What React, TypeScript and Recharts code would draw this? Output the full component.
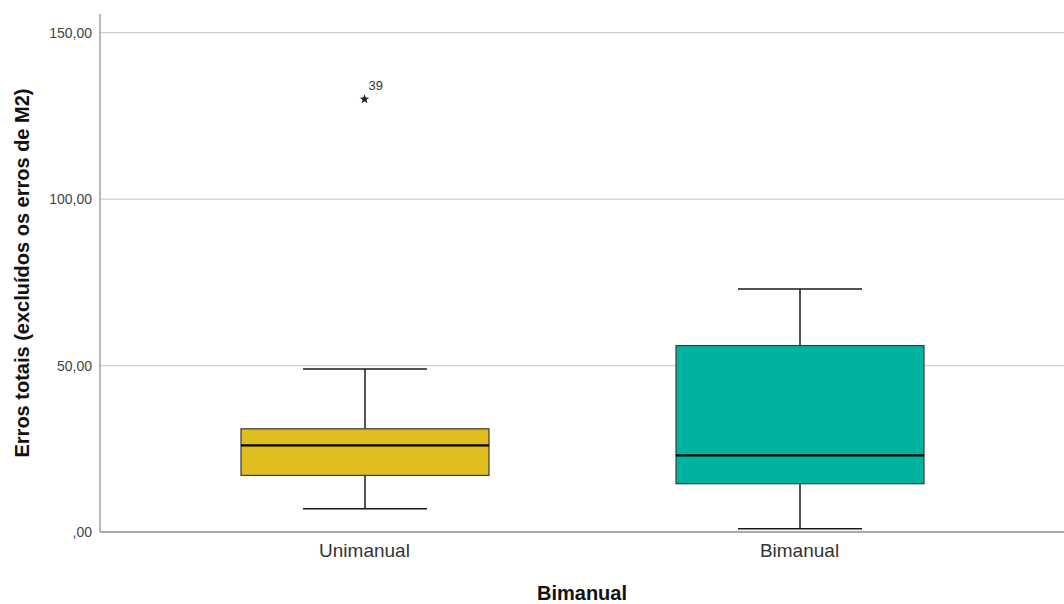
import { ComposedChart, Bar, Scatter, XAxis, YAxis, CartesianGrid } from 'recharts'

// box plot summary per group
const categories = ['Unimanual', 'Bimanual']
const mins = [7, 1]
const q1s = [17, 14.5]
const medians = [26, 23]
const q3s = [31, 56]
const maxs = [49, 73]
const outliers: (number | null)[] = [130, null]
const outlierIds = ['39', '']
const yTicks = [0, 50, 100, 150]
const gridValues = [50, 100, 150]

const BOX_COLORS = ['#e0bd1e', '#00b3a1']
const FONT = '"Liberation Sans", Arial, sans-serif'

const data = categories.map((name, i) => ({
  name,
  range: [mins[i], maxs[i]],
  min: mins[i],
  q1: q1s[i],
  median: medians[i],
  q3: q3s[i],
  max: maxs[i],
  outlier: outliers[i],
  outlierId: outlierIds[i],
  color: BOX_COLORS[i],
}))

// draws whiskers + box + median from the [min, max] bar the library lays out
function BoxShape(props: any) {
  const { x, y, width, height, payload } = props
  if (!payload || !height) return null
  const top = Math.min(y, y + height)
  const k = Math.abs(height) / (payload.max - payload.min)
  const py = (v: number) => top + (payload.max - v) * k
  const cx = x + width / 2
  const cap = width / 4
  return (
    <g>
      <line x1={cx} x2={cx} y1={py(payload.max)} y2={py(payload.q3)} stroke="#1a1a1a" strokeWidth={1.5} />
      <line x1={cx} x2={cx} y1={py(payload.q1)} y2={py(payload.min)} stroke="#1a1a1a" strokeWidth={1.5} />
      <line x1={cx - cap} x2={cx + cap} y1={py(payload.max)} y2={py(payload.max)} stroke="#1a1a1a" strokeWidth={1.5} />
      <line x1={cx - cap} x2={cx + cap} y1={py(payload.min)} y2={py(payload.min)} stroke="#1a1a1a" strokeWidth={1.5} />
      <rect
        x={x}
        y={py(payload.q3)}
        width={width}
        height={py(payload.q1) - py(payload.q3)}
        fill={payload.color}
        stroke="#3a3a3a"
        strokeWidth={1.2}
      />
      <line x1={x} x2={x + width} y1={py(payload.median)} y2={py(payload.median)} stroke="#000" strokeWidth={2.2} />
    </g>
  )
}

function StarShape(props: any) {
  const { cx, cy, payload } = props
  if (payload?.outlier == null || !Number.isFinite(cy)) return null
  const pts: string[] = []
  for (let i = 0; i < 10; i++) {
    const r = i % 2 === 0 ? 5 : 2.1
    const a = -Math.PI / 2 + (i * Math.PI) / 5
    pts.push(`${cx + r * Math.cos(a)},${cy + r * Math.sin(a)}`)
  }
  return (
    <g>
      <polygon points={pts.join(' ')} fill="#222" />
      <text x={cx + 4} y={cy - 9} fontSize={13} fill="#333" fontFamily={FONT}>
        {payload.outlierId}
      </text>
    </g>
  )
}

const fmt = (v: number) => (v === 0 ? ',00' : v.toFixed(2).replace('.', ','))

export default function App() {
  return (
    <div style={{ width: 1064, height: 604, background: '#fff' }}>
      <style>{'body{margin:0}'}</style>
      <ComposedChart
        width={1064}
        height={604}
        data={data}
        margin={{ top: 14, right: 0, bottom: 0, left: 0 }}
        barSize={248}
      >
        <CartesianGrid
          horizontal
          vertical={false}
          horizontalValues={gridValues}
          stroke="#cfcfcf"
          strokeWidth={1.2}
        />
        <XAxis
          dataKey="name"
          height={72}
          padding={{ left: 47, right: 47 }}
          axisLine={{ stroke: '#555', strokeWidth: 1.2 }}
          tickLine={false}
          tickMargin={6}
          tick={{ fontSize: 19, fill: '#333', fontFamily: FONT }}
          label={{
            content: ({ viewBox }: any) => (
              <text
                x={viewBox.x + viewBox.width / 2}
                y={viewBox.y + 68}
                textAnchor="middle"
                fontSize={20}
                fontWeight="bold"
                fill="#111"
                fontFamily={FONT}
              >
                Bimanual
              </text>
            ),
          }}
        />
        <YAxis
          width={100}
          domain={[0, 155.6]}
          ticks={yTicks}
          tickFormatter={fmt}
          axisLine={{ stroke: '#8a8a8a', strokeWidth: 1.2 }}
          tickLine={false}
          tick={{ fontSize: 14, fill: '#444', fontFamily: FONT }}
          label={{
            content: ({ viewBox }: any) => {
              const lx = viewBox.x + 29
              const ly = viewBox.y + viewBox.height / 2
              return (
                <text
                  x={lx}
                  y={ly}
                  transform={`rotate(-90 ${lx} ${ly})`}
                  textAnchor="middle"
                  fontSize={20}
                  fontWeight="bold"
                  fill="#111"
                  fontFamily={FONT}
                >
                  Erros totais (excluídos os erros de M2)
                </text>
              )
            },
          }}
        />
        <Bar dataKey="range" shape={<BoxShape />} isAnimationActive={false} />
        <Scatter dataKey="outlier" shape={<StarShape />} isAnimationActive={false} />
      </ComposedChart>
    </div>
  )
}
